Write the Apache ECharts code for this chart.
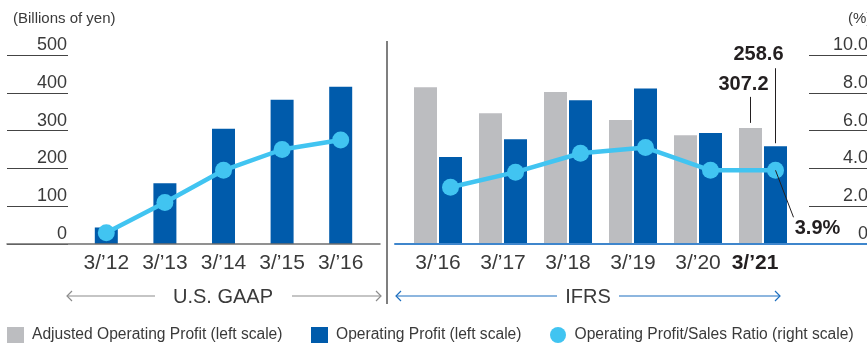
<!DOCTYPE html>
<html>
<head>
<meta charset="utf-8">
<script src="https://cdn.jsdelivr.net/npm/echarts@6/dist/echarts.min.js"></script>
<style>
  html, body { margin: 0; padding: 0; background: #fff; }
  #chart { width: 867px; height: 347px; }
</style>
</head>
<body>
<div id="chart"></div>
<script>
// Fiscal years reported under U.S. GAAP
const gaapYears = ["3/’12", "3/’13", "3/’14", "3/’15", "3/’16"];
const gaapOperatingProfit = [43.7, 160.9, 305.1, 381.9, 415.7];   // billions of yen
const gaapProfitRatio = [0.6, 2.2, 3.9, 5.0, 5.5];                 // %

// Fiscal years reported under IFRS
const ifrsYears = ["3/’16", "3/’17", "3/’18", "3/’19", "3/’20", "3/’21"];
const ifrsAdjustedProfit = [415.0, 346.0, 402.0, 328.0, 288.0, 307.2];   // billions of yen
const ifrsOperatingProfit = [230.3, 276.8, 380.5, 411.5, 293.8, 258.6];  // billions of yen
const ifrsProfitRatio = [3.0, 3.8, 4.8, 5.1, 3.9, 3.9];                  // %

// Scales
const yenScale = { min: 0, max: 500, step: 100 };
const pctScale = { min: 0, max: 10, step: 2 };

const NAME_ADJ = 'Adjusted Operating Profit (left scale)';
const NAME_OP = 'Operating Profit (left scale)';
const NAME_RATIO = 'Operating Profit/Sales Ratio (right scale)';

const FONT = "'Liberation Sans', Arial, sans-serif";
const TEXT = '#3a3a3a';
const BLUE = '#005bab';
const GRAY = '#bcbdc0';
const CYAN = '#41c4f1';
const RULE_BLUE = '#3f86cc';
const BAR_W = 23;
const BAR_GAP = 2;

const chart = echarts.init(document.getElementById('chart'), null, { renderer: 'canvas' });

const hiddenValueX = (gridIndex, color, width) => ({
  gridIndex, type: 'value', min: 0, max: 1, z: 3,
  axisLine: { show: true, lineStyle: { color, width } },
  axisTick: { show: false }, axisLabel: { show: false }, splitLine: { show: false }
});

const ratioLine = (xAxisIndex, yAxisIndex, data) => ({
  type: 'line', name: NAME_RATIO, xAxisIndex, yAxisIndex, data,
  symbol: 'circle', symbolSize: 17, z: 5,
  itemStyle: { color: CYAN },
  lineStyle: { color: CYAN, width: 4.5 }
});

// One legend block per entry so each sits at its own place in the key row
const legendEntry = (left, name, icon) => ({
  left, top: 327, padding: 0, itemWidth: 17, itemHeight: 16, selectedMode: false,
  textStyle: { fontSize: 15.6, fontFamily: FONT, color: TEXT, padding: [0, 0, 0, 3] },
  data: [{ name, icon }]
});

// Fixed plot boxes; the right-hand scale is allowed to run past the edge
const box = (left, width) => ({ left, top: 55, width, height: 189, outerBoundsMode: 'none', containLabel: false });

const lastIdx = ifrsYears.length - 1;

chart.setOption({
  animation: false,
  grid: [
    box(7, 373),      // yen scale + GAAP baseline
    box(77, 293),     // GAAP bars
    box(395, 474),    // % scale + IFRS baseline
    box(405.5, 390),  // IFRS bars
    box(418, 390)     // IFRS ratio, centred on the Operating Profit bars
  ],
  xAxis: [
    hiddenValueX(0, '#6d6d6d', 1.5),
    {
      gridIndex: 1, type: 'category', data: gaapYears,
      axisLine: { show: false }, axisTick: { show: false },
      axisLabel: { interval: 0, fontSize: 21, fontFamily: FONT, color: TEXT, margin: 9 }
    },
    hiddenValueX(2, RULE_BLUE, 2),
    {
      gridIndex: 3, type: 'category', data: ifrsYears,
      axisLine: { show: false }, axisTick: { show: false },
      axisLabel: {
        interval: 0, fontSize: 21, fontFamily: FONT, color: TEXT, margin: 9,
        formatter: (v, i) => i === lastIdx ? '{cur|' + v + '}' : v,
        rich: { cur: { fontSize: 21, fontFamily: FONT, fontWeight: 'bold', color: '#231f20', padding: [0, 16, 0, 0] } }
      }
    },
    { gridIndex: 4, type: 'category', data: ifrsYears, show: false }
  ],
  yAxis: [
    {
      gridIndex: 0, type: 'value', min: yenScale.min, max: yenScale.max, interval: yenScale.step,
      position: 'left', z: 1,
      axisLine: { show: false, onZero: false },
      axisTick: { show: true, inside: true, length: 61, lineStyle: { color: '#444', width: 1 } },
      axisLabel: { margin: -60, fontSize: 18, fontFamily: FONT, color: TEXT, verticalAlign: 'bottom', lineHeight: 20 },
      splitLine: { show: false }
    },
    { gridIndex: 1, type: 'value', min: yenScale.min, max: yenScale.max, show: false },
    { gridIndex: 1, type: 'value', min: pctScale.min, max: pctScale.max, show: false },
    {
      gridIndex: 2, type: 'value', min: pctScale.min, max: pctScale.max, interval: pctScale.step,
      position: 'right', z: 1,
      axisLine: { show: false, onZero: false },
      axisTick: { show: true, inside: true, length: 60, lineStyle: { color: '#444', width: 1 } },
      axisLabel: {
        margin: -1, align: 'right', fontSize: 18, fontFamily: FONT, color: TEXT,
        verticalAlign: 'bottom', lineHeight: 20,
        formatter: v => v === 0 ? '0' : v.toFixed(1)
      },
      splitLine: { show: false }
    },
    { gridIndex: 3, type: 'value', min: yenScale.min, max: yenScale.max, show: false },
    { gridIndex: 4, type: 'value', min: pctScale.min, max: pctScale.max, show: false }
  ],
  legend: [
    legendEntry(7, NAME_ADJ, 'rect'),
    legendEntry(311, NAME_OP, 'rect'),
    legendEntry(550, NAME_RATIO, 'circle')
  ],
  series: [
    { type: 'bar', name: NAME_OP, xAxisIndex: 1, yAxisIndex: 1, data: gaapOperatingProfit,
      barWidth: BAR_W, itemStyle: { color: BLUE } },
    ratioLine(1, 2, gaapProfitRatio),
    { type: 'bar', name: NAME_ADJ, xAxisIndex: 3, yAxisIndex: 4, data: ifrsAdjustedProfit,
      barWidth: BAR_W, barGap: (BAR_GAP / BAR_W * 100).toFixed(1) + '%', itemStyle: { color: GRAY } },
    { type: 'bar', name: NAME_OP, xAxisIndex: 3, yAxisIndex: 4, data: ifrsOperatingProfit,
      barWidth: BAR_W, itemStyle: { color: BLUE } },
    ratioLine(4, 5, ifrsProfitRatio)
  ]
});

// Section headers, divider and reporting-standard arrows
const text = (x, y, str, font, fill, align) => ({
  type: 'text', x, y, z: 10,
  style: { text: str, font, fill, align: align || 'center', verticalAlign: 'middle' }
});
const seg = (x1, y1, x2, y2, stroke, lineWidth) => ({
  type: 'line', z: 10, shape: { x1, y1, x2, y2 }, style: { stroke, lineWidth: lineWidth || 1 }
});
const arrow = (x1, x2, y, stroke, headLeft) => {
  const hx = headLeft ? x1 : x2;
  const d = headLeft ? 5 : -5;
  return [
    seg(x1, y, x2, y, stroke, 1.2),
    { type: 'polyline', z: 10, shape: { points: [[hx + d, y - 5], [hx, y], [hx + d, y + 5]] },
      style: { stroke, lineWidth: 1.2, fill: null } }
  ];
};

const staticGraphics = [
  text(13, 19, '(Billions of yen)', '15px ' + FONT, TEXT, 'left'),
  text(848, 19, '(%)', '15px ' + FONT, TEXT, 'left'),
  seg(387, 41, 387, 304, '#555', 1.5),
  ...arrow(67, 155, 296, '#8c8c8c', true),
  ...arrow(292, 381, 296, '#8c8c8c', false),
  text(223, 297, 'U.S. GAAP', '20px ' + FONT, TEXT),
  ...arrow(396, 557, 296, '#1d6fbf', true),
  ...arrow(619, 780, 296, '#1d6fbf', false),
  text(588, 297, 'IFRS', '20px ' + FONT, TEXT)
];

// Call-outs for the latest fiscal year, positioned from the axes' own scales
const cat = ifrsYears[lastIdx];
const [catX, adjTop] = chart.convertToPixel({ xAxisIndex: 3, yAxisIndex: 4 }, [cat, ifrsAdjustedProfit[lastIdx]]);
const opTop = chart.convertToPixel({ xAxisIndex: 3, yAxisIndex: 4 }, [cat, ifrsOperatingProfit[lastIdx]])[1];
const [rx, ry] = chart.convertToPixel({ xAxisIndex: 4, yAxisIndex: 5 }, [cat, ifrsProfitRatio[lastIdx]]);
const half = (BAR_W + BAR_GAP) / 2;
const adjX = catX - half;
const opX = catX + half;
const BOLD = 'bold 20px ' + FONT;
const INK = '#231f20';

const callouts = [
  seg(opX, opTop - 3, opX, opTop - 78, INK, 1),
  text(opX - 17, opTop - 92, ifrsOperatingProfit[lastIdx].toFixed(1), BOLD, INK),
  seg(adjX, adjTop - 5, adjX, adjTop - 31, INK, 1),
  text(adjX - 7, adjTop - 43, ifrsAdjustedProfit[lastIdx].toFixed(1), BOLD, INK),
  seg(rx, ry, rx + 18, ry + 47, INK, 1),
  text(rx + 42, ry + 58, ifrsProfitRatio[lastIdx].toFixed(1) + '%', BOLD, INK)
];

chart.setOption({ graphic: [...staticGraphics, ...callouts] });
</script>
</body>
</html>
